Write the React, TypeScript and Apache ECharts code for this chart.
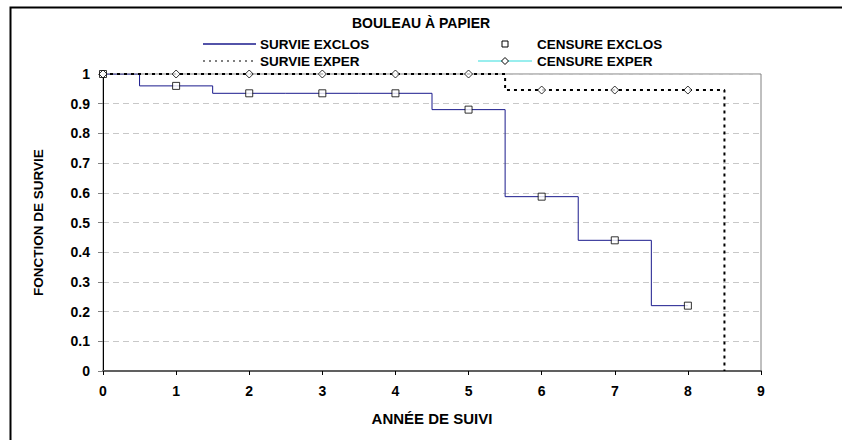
import React, { useEffect, useRef } from "react";
import * as echarts from "echarts";

const TITLE = "BOULEAU À PAPIER";
const X_NAME = "ANNÉE DE SUIVI";
const Y_NAME = "FONCTION DE SURVIE";
const SERIES_NAMES = ["SURVIE EXCLOS", "SURVIE EXPER", "CENSURE EXCLOS", "CENSURE EXPER"];

const years = [0, 1, 2, 3, 4, 5, 6, 7, 8];
const survieExclos = [1, 0.96, 0.935, 0.935, 0.935, 0.88, 0.587, 0.44, 0.22];
const survieExper = [1, 1, 1, 1, 1, 1, 0.946, 0.946, 0.946];
const experEndYear = 8.5;
const experEndValue = 0;
const censureExclos = [1, 0.96, 0.935, 0.935, 0.935, 0.88, 0.587, 0.44, 0.22];
const censureExper = [1, 1, 1, 1, 1, 1, 0.946, 0.946, 0.946];

const xMin = 0, xMax = 9, xStep = 1;
const yMin = 0, yMax = 1, yStep = 0.1;

const FONT = "'Liberation Sans', Arial, sans-serif";
const BLUE = "#1a1a8c";

export default function App() {
  const ref = useRef<HTMLDivElement>(null);
  useEffect(() => {
    if (!ref.current) return;
    const chart = echarts.init(ref.current, null, { renderer: "svg" });
    const pairs = (xs: number[], ys: number[]) => xs.map((x, i) => [x, ys[i]]);
    const experData = pairs(years, survieExper);
    experData.push([experEndYear, survieExper[survieExper.length - 1]]);
    experData.push([experEndYear, experEndValue]);
    const txt = { fontFamily: FONT, fontWeight: "bold", fontSize: 13.5, fill: "#000" };
    chart.setOption({
      animation: false,
      backgroundColor: "#fff",
      textStyle: { fontFamily: FONT },
      title: {
        text: TITLE,
        left: "center",
        top: 11,
        textStyle: { fontFamily: FONT, fontWeight: "bold", fontSize: 14, color: "#000" },
      },
      grid: {
        left: 103,
        right: 81,
        top: 74,
        bottom: 69,
        show: true,
        borderColor: "#808080",
        borderWidth: 1,
        backgroundColor: "transparent",
      },
      xAxis: {
        type: "value",
        min: xMin,
        max: xMax,
        interval: xStep,
        name: X_NAME,
        nameLocation: "middle",
        nameGap: 40,
        nameTextStyle: { fontFamily: FONT, fontWeight: "bold", fontSize: 15, color: "#000" },
        axisLine: { show: true, lineStyle: { color: "#606060", width: 2 } },
        axisTick: { show: true, length: 4, lineStyle: { color: "#000" } },
        axisLabel: { fontFamily: FONT, fontWeight: "bold", fontSize: 14, color: "#000", margin: 13 },
        splitLine: { show: false },
      },
      yAxis: {
        type: "value",
        min: yMin,
        max: yMax,
        interval: yStep,
        name: Y_NAME,
        nameLocation: "middle",
        nameGap: 58,
        nameTextStyle: { fontFamily: FONT, fontWeight: "bold", fontSize: 13.5, color: "#000" },
        axisLine: { show: true, lineStyle: { color: "#000", width: 1 } },
        axisTick: { show: true, length: 5, lineStyle: { color: "#808080" } },
        axisLabel: { fontFamily: FONT, fontWeight: "bold", fontSize: 14, color: "#000", margin: 13 },
        splitLine: { show: true, lineStyle: { color: "#c8c8c8", type: [6, 4], width: 1 } },
      },
      legend: { show: false },
      series: [
        {
          name: SERIES_NAMES[0],
          type: "line",
          step: "middle",
          data: pairs(years, survieExclos),
          showSymbol: false,
          symbol: "none",
          lineStyle: { color: BLUE, width: 1 },
          z: 2,
        },
        {
          name: SERIES_NAMES[1],
          type: "line",
          step: "middle",
          data: experData,
          showSymbol: false,
          symbol: "none",
          lineStyle: { color: "#000", width: 2, type: [3, 4] },
          z: 3,
        },
        {
          name: SERIES_NAMES[2],
          type: "scatter",
          data: pairs(years, censureExclos),
          symbol: "rect",
          symbolSize: 7,
          itemStyle: { color: "#fff", borderColor: "#000", borderWidth: 1 },
          z: 5,
        },
        {
          name: SERIES_NAMES[3],
          type: "scatter",
          data: pairs(years, censureExper),
          symbol: "diamond",
          symbolSize: [8, 8],
          itemStyle: { color: "#fff", borderColor: "#000", borderWidth: 1 },
          z: 5,
        },
      ],
      graphic: [
        {
          type: "rect",
          silent: true,
          shape: { x: 10.5, y: 7.5, width: 900, height: 500 },
          style: { fill: "none", stroke: "#000", lineWidth: 2 },
        },
        // legend column 1
        { type: "line", shape: { x1: 203, y1: 44, x2: 256, y2: 44 }, style: { stroke: BLUE, lineWidth: 1.5 } },
        { type: "text", x: 260, y: 44, style: { ...txt, text: SERIES_NAMES[0], verticalAlign: "middle" } },
        { type: "line", shape: { x1: 203, y1: 61, x2: 256, y2: 61 }, style: { stroke: "#000", lineWidth: 1, lineDash: [2, 4] } },
        { type: "text", x: 260, y: 61, style: { ...txt, text: SERIES_NAMES[1], verticalAlign: "middle" } },
        // legend column 2
        { type: "rect", shape: { x: 502, y: 41, width: 6, height: 6 }, style: { fill: "#fff", stroke: "#000", lineWidth: 1 } },
        { type: "text", x: 537, y: 44, style: { ...txt, text: SERIES_NAMES[2], verticalAlign: "middle" } },
        { type: "line", shape: { x1: 478, y1: 61, x2: 532, y2: 61 }, style: { stroke: "#33dddd", lineWidth: 1 } },
        {
          type: "polygon",
          shape: { points: [[505, 57.5], [508.5, 61], [505, 64.5], [501.5, 61]] },
          style: { fill: "#fff", stroke: "#000", lineWidth: 1 },
          z: 10,
        },
        { type: "text", x: 537, y: 61, style: { ...txt, text: SERIES_NAMES[3], verticalAlign: "middle" } },
      ],
    });
    return () => chart.dispose();
  }, []);
  return <div ref={ref} style={{ position: "fixed", left: 0, top: 0, width: 842, height: 440 }} />;
}
